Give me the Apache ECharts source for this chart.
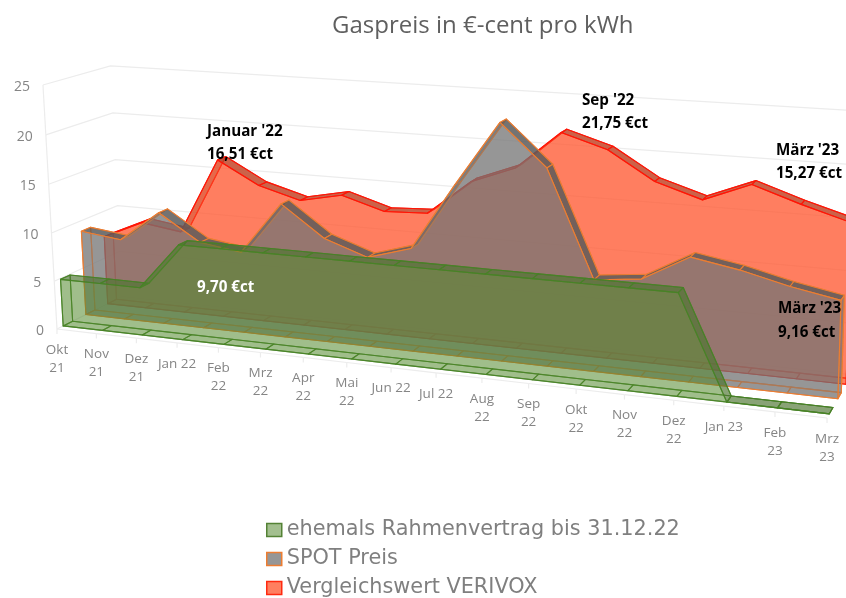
<!DOCTYPE html>
<html>
<head>
<meta charset="utf-8">
<style>
  html, body { margin: 0; padding: 0; background: #fff; }
  #myChart { width: 846px; height: 598px; filter: blur(0.4px); }
</style>
<script src="https://cdn.jsdelivr.net/npm/echarts@6/dist/echarts.min.js"></script>
</head>
<body>
<div id="myChart"></div>
<script>
var categories = ['Okt\n21', 'Nov\n21', 'Dez\n21', 'Jan 22', 'Feb\n22', 'Mrz\n22', 'Apr\n22', 'Mai\n22', 'Jun 22',
    'Jul 22', 'Aug\n22', 'Sep\n22', 'Okt\n22', 'Nov\n22', 'Dez\n22', 'Jan 23', 'Feb\n23', 'Mrz\n23'];
var yTicks = [0, 5, 10, 15, 20, 25];
var rahmenWerte = [4.9, 4.9, 4.9, 9.7, 9.7, 9.7, 9.7, 9.7, 9.7, 9.7, 9.7, 9.7, 9.7, 9.7, 9.7, 0, 0, 0];
var spotWerte = [8.9, 8.4, 11.6, 8.9, 8.3, 13.6, 10.5, 9.0, 10.3, 16.9, 23.2, 19.2, 8.9, 9.4, 11.9, 11.1, 10.0, 9.16];
var verivoxWerte = [7.3, 9.2, 8.6, 16.51, 14.2, 13.0, 13.9, 12.6, 12.8, 16.3, 18.0, 21.75, 20.4, 17.7, 16.3, 18.1, 16.6, 15.27];

var FONT = '"Open Sans", sans-serif';
var GRID_LINE = '#ececec';
var AXIS_TEXT = '#858585';

// 3D-Ansicht: bildet Flaechenkoordinaten (u, w, Tiefe) auf den Bildschirm ab
var camX = [57, 655.9, -15.2, 72.4];
var camY = [329, 31.3, -246.3, -14.6];
var camW = [1, -0.138, -0.027, 0.0604];

function project(cs, pt, d) {
    var u = (pt[0] - cs.x) / cs.width;
    var w = (cs.y + cs.height - pt[1]) / cs.height;
    var n = camW[0] + camW[1] * u + camW[2] * w + camW[3] * d;
    return [
        (camX[0] + camX[1] * u + camX[2] * w + camX[3] * d) / n,
        (camY[0] + camY[1] * u + camY[2] * w + camY[3] * d) / n
    ];
}

function face(points, fill, stroke) {
    return {
        type: 'polygon',
        shape: { points: points },
        style: { fill: fill, stroke: stroke, lineWidth: 1.1, lineJoin: 'round' }
    };
}

// eine Flaeche als Koerper mit Boden, Rueckseite, Seiten, Oberkante und Vorderseite
function areaBody(werte, front, back, look) {
    return function (params, api) {
        if (params.dataIndex !== 0) {
            return null;
        }
        var cs = params.coordSys;
        var top = function (i, d) { return project(cs, api.coord([i, werte[i]]), d); };
        var base = function (i, d) { return project(cs, api.coord([i, 0]), d); };
        var last = werte.length - 1;
        var kids = [];
        var i;

        for (i = 0; i < last; i++) {
            kids.push(face([base(i, front), base(i + 1, front), base(i + 1, back), base(i, back)], look.fill, look.line));
        }
        var outline = function (d) {
            var pts = [];
            for (var k = 0; k <= last; k++) { pts.push(top(k, d)); }
            pts.push(base(last, d));
            pts.push(base(0, d));
            return pts;
        };
        kids.push(face(outline(back), look.fill, look.line));
        kids.push(face([base(0, front), top(0, front), top(0, back), base(0, back)], look.fill, look.line));
        for (i = 0; i < last; i++) {
            kids.push(face([top(i, front), top(i + 1, front), top(i + 1, back), top(i, back)], look.top, look.line));
        }
        kids.push(face([base(last, front), top(last, front), top(last, back), base(last, back)], look.fill, look.line));
        kids.push(face(outline(front), look.fill, look.line));
        return { type: 'group', children: kids };
    };
}

function renderWall(params, api) {
    var cs = params.coordSys;
    var v = api.value(1);
    var vorn = project(cs, api.coord([0, v]), 0);
    var hinten = project(cs, api.coord([0, v]), 1);
    var rechts = project(cs, api.coord([categories.length - 1, v]), 1);
    return {
        type: 'group',
        children: [
            { type: 'polyline', shape: { points: [vorn, hinten, rechts] }, style: { fill: null, stroke: GRID_LINE, lineWidth: 1.2 } },
            { type: 'text', style: { x: vorn[0] - 13, y: vorn[1] + 2, text: String(v), fill: AXIS_TEXT, fontFamily: FONT, fontSize: 14, align: 'right', verticalAlign: 'middle' } }
        ]
    };
}

function renderBoden(params, api) {
    var cs = params.coordSys;
    var i = api.value(0);
    var p = project(cs, api.coord([i, 0]), 0);
    var kids = [
        { type: 'line', shape: { x1: p[0], y1: p[1], x2: p[0], y2: p[1] + 5 }, style: { stroke: GRID_LINE, lineWidth: 1.2 } },
        { type: 'text', style: { x: p[0], y: p[1] + 12, text: categories[i], fill: AXIS_TEXT, fontFamily: FONT, fontSize: 13.5, lineHeight: 18, align: 'center', verticalAlign: 'top' } }
    ];
    if (i < categories.length - 1) {
        var n = project(cs, api.coord([i + 1, 0]), 0);
        kids.push({ type: 'line', shape: { x1: p[0], y1: p[1], x2: n[0], y2: n[1] }, style: { stroke: GRID_LINE, lineWidth: 1.2 } });
    }
    if (i === 0) {
        var oben = project(cs, api.coord([0, yTicks[yTicks.length - 1]]), 0);
        kids.push({ type: 'line', shape: { x1: p[0], y1: p[1], x2: oben[0], y2: oben[1] }, style: { stroke: GRID_LINE, lineWidth: 1.2 } });
    }
    return { type: 'group', children: kids };
}

function punkte(werte) {
    return werte.map(function (v, i) { return [i, v]; });
}

function notiz(x, y, text, farbe) {
    return {
        type: 'text', left: x, top: y, z: 100,
        style: { text: text, fill: farbe || '#000', font: 'bold 15.2px ' + FONT }
    };
}

var myChart = echarts.init(document.getElementById('myChart'));
var option = {
    backgroundColor: '#fff',
    animation: false,
    title: {
        text: 'Gaspreis in €-cent pro kWh',
        left: 327,
        top: 9,
        textStyle: { color: '#5f5f5f', fontFamily: FONT, fontSize: 24, fontWeight: 'normal' }
    },
    legend: {
        orient: 'vertical',
        left: 266,
        top: 516,
        height: 100,
        padding: 0,
        itemWidth: 15,
        itemHeight: 13,
        itemGap: 1,
        icon: 'rect',
        textStyle: { color: '#7f7f7f', fontFamily: '"DejaVu Sans", sans-serif', fontSize: 20.8, lineHeight: 28 },
        data: [
            { name: 'ehemals Rahmenvertrag bis 31.12.22', itemStyle: { color: '#a3bf8f', borderColor: '#548235', borderWidth: 1.5 } },
            { name: 'SPOT Preis', itemStyle: { color: '#969696', borderColor: '#ed7d31', borderWidth: 1.5 } },
            { name: 'Vergleichswert VERIVOX', itemStyle: { color: '#ff7f60', borderColor: '#ff2a10', borderWidth: 1.5 } }
        ]
    },
    grid: { left: 57, right: 19, top: 85, bottom: 180 },
    xAxis: { type: 'category', data: categories, boundaryGap: false, show: false },
    yAxis: { type: 'value', min: 0, max: 25, interval: 5, show: false },
    graphic: [
        notiz(207, 124, "Januar '22"),
        notiz(207, 147, '16,51 €ct'),
        notiz(582, 93, "Sep '22"),
        notiz(582, 116, '21,75 €ct'),
        notiz(776, 143, "März '23"),
        notiz(776, 166, '15,27 €ct'),
        notiz(778, 301, "März '23"),
        notiz(778, 325, '9,16 €ct'),
        notiz(197, 280, '9,70 €ct', '#fff')
    ],
    series: [
        { type: 'custom', silent: true, data: yTicks.map(function (t) { return [0, t]; }), encode: { x: 0, y: 1 }, renderItem: renderWall, z: 1 },
        { type: 'custom', silent: true, data: categories.map(function (c, i) { return [i, 0]; }), encode: { x: 0, y: 1 }, renderItem: renderBoden, z: 1 },
        {
            name: 'Vergleichswert VERIVOX', type: 'custom', silent: true, z: 2,
            data: punkte(verivoxWerte), encode: { x: 0, y: 1 },
            itemStyle: { color: '#ff7f60' },
            renderItem: areaBody(verivoxWerte, 0.77, 0.91, { fill: 'rgba(255,84,43,0.5)', top: 'rgba(182,69,41,0.7)', line: 'rgba(255,20,5,0.95)' })
        },
        {
            name: 'SPOT Preis', type: 'custom', silent: true, z: 3,
            data: punkte(spotWerte), encode: { x: 0, y: 1 },
            itemStyle: { color: '#969696' },
            renderItem: areaBody(spotWerte, 0.43, 0.57, { fill: 'rgba(115,115,115,0.5)', top: 'rgba(85,85,85,0.7)', line: 'rgba(237,125,49,0.95)' })
        },
        {
            name: 'ehemals Rahmenvertrag bis 31.12.22', type: 'custom', silent: true, z: 4,
            data: punkte(rahmenWerte), encode: { x: 0, y: 1 },
            itemStyle: { color: '#a3bf8f' },
            renderItem: areaBody(rahmenWerte, 0.09, 0.23, { fill: 'rgba(82,136,45,0.33)', top: 'rgba(75,110,50,0.5)', line: 'rgba(72,130,38,0.85)' })
        }
    ]
};
myChart.setOption(option);
</script>
</body>
</html>
